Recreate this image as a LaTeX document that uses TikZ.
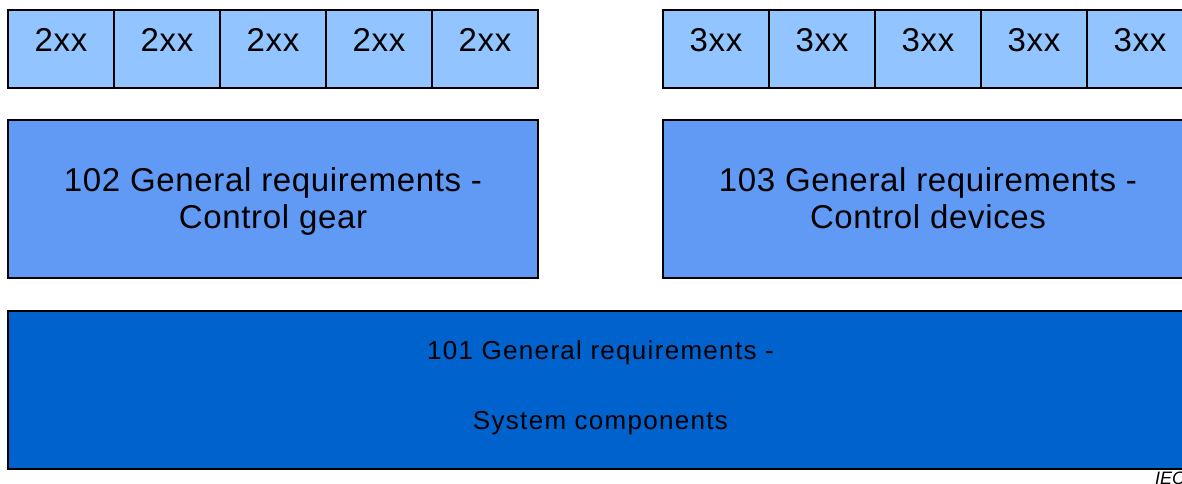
\documentclass[tikz,border=0pt]{standalone}
\usepackage{fontspec}
\setmainfont{Liberation Sans}
\newfontfamily\widefont[LetterSpace=2]{Liberation Sans}
\newfontfamily\widerfont[LetterSpace=5]{Liberation Sans}
\definecolor{partblue}{RGB}{146,196,255}
\definecolor{genblue}{RGB}{96,154,245}
\definecolor{sysblue}{RGB}{0,98,204}
\tikzset{
    part/.style={draw,line width=1.5pt,fill=partblue,minimum width=106pt,minimum height=78pt,inner sep=0pt,text height=23.6pt,text depth=18pt,font=\widefont\fontsize{33}{38}\selectfont},
    general/.style={draw,line width=1.5pt,fill=genblue,minimum width=530pt,minimum height=158pt,inner sep=0pt,align=center,text height=62pt,text depth=2pt,font=\widefont\fontsize{33}{37}\selectfont},
    system/.style={draw,line width=1.5pt,fill=sysblue,minimum width=1185pt,minimum height=158pt,inner sep=0pt,align=center,text height=88pt,text depth=8pt,font=\widerfont\fontsize{26}{35}\selectfont}
}

\begin{document}
\begin{tikzpicture}[x=1pt,y=1pt]
    \useasboundingbox (0,0) rectangle (1182,484);
    \clip (0,0) rectangle (1182,484);
    \foreach \i/\x in {1/61,2/167,3/273,4/379,5/485}
        \node [part] (l\i) at (\x,435) {2xx};
    \foreach \i/\x in {1/716,2/822,3/928,4/1034,5/1140}
        \node [part] (r\i) at (\x,435) {3xx};
    \node [general] (gear) at (273,285) {102 General requirements -\\Control gear};
    \node [general] (devices) at (928,285) {103 General requirements -\\Control devices};
    \node [system] (system) at (600.5,94) {101 General requirements -\\[35pt]System components};
    \node [anchor=north west,inner sep=0pt,font=\itshape\fontsize{18}{18}\selectfont] (iec) at (1155,12) {IEC};
\end{tikzpicture}
\end{document}
